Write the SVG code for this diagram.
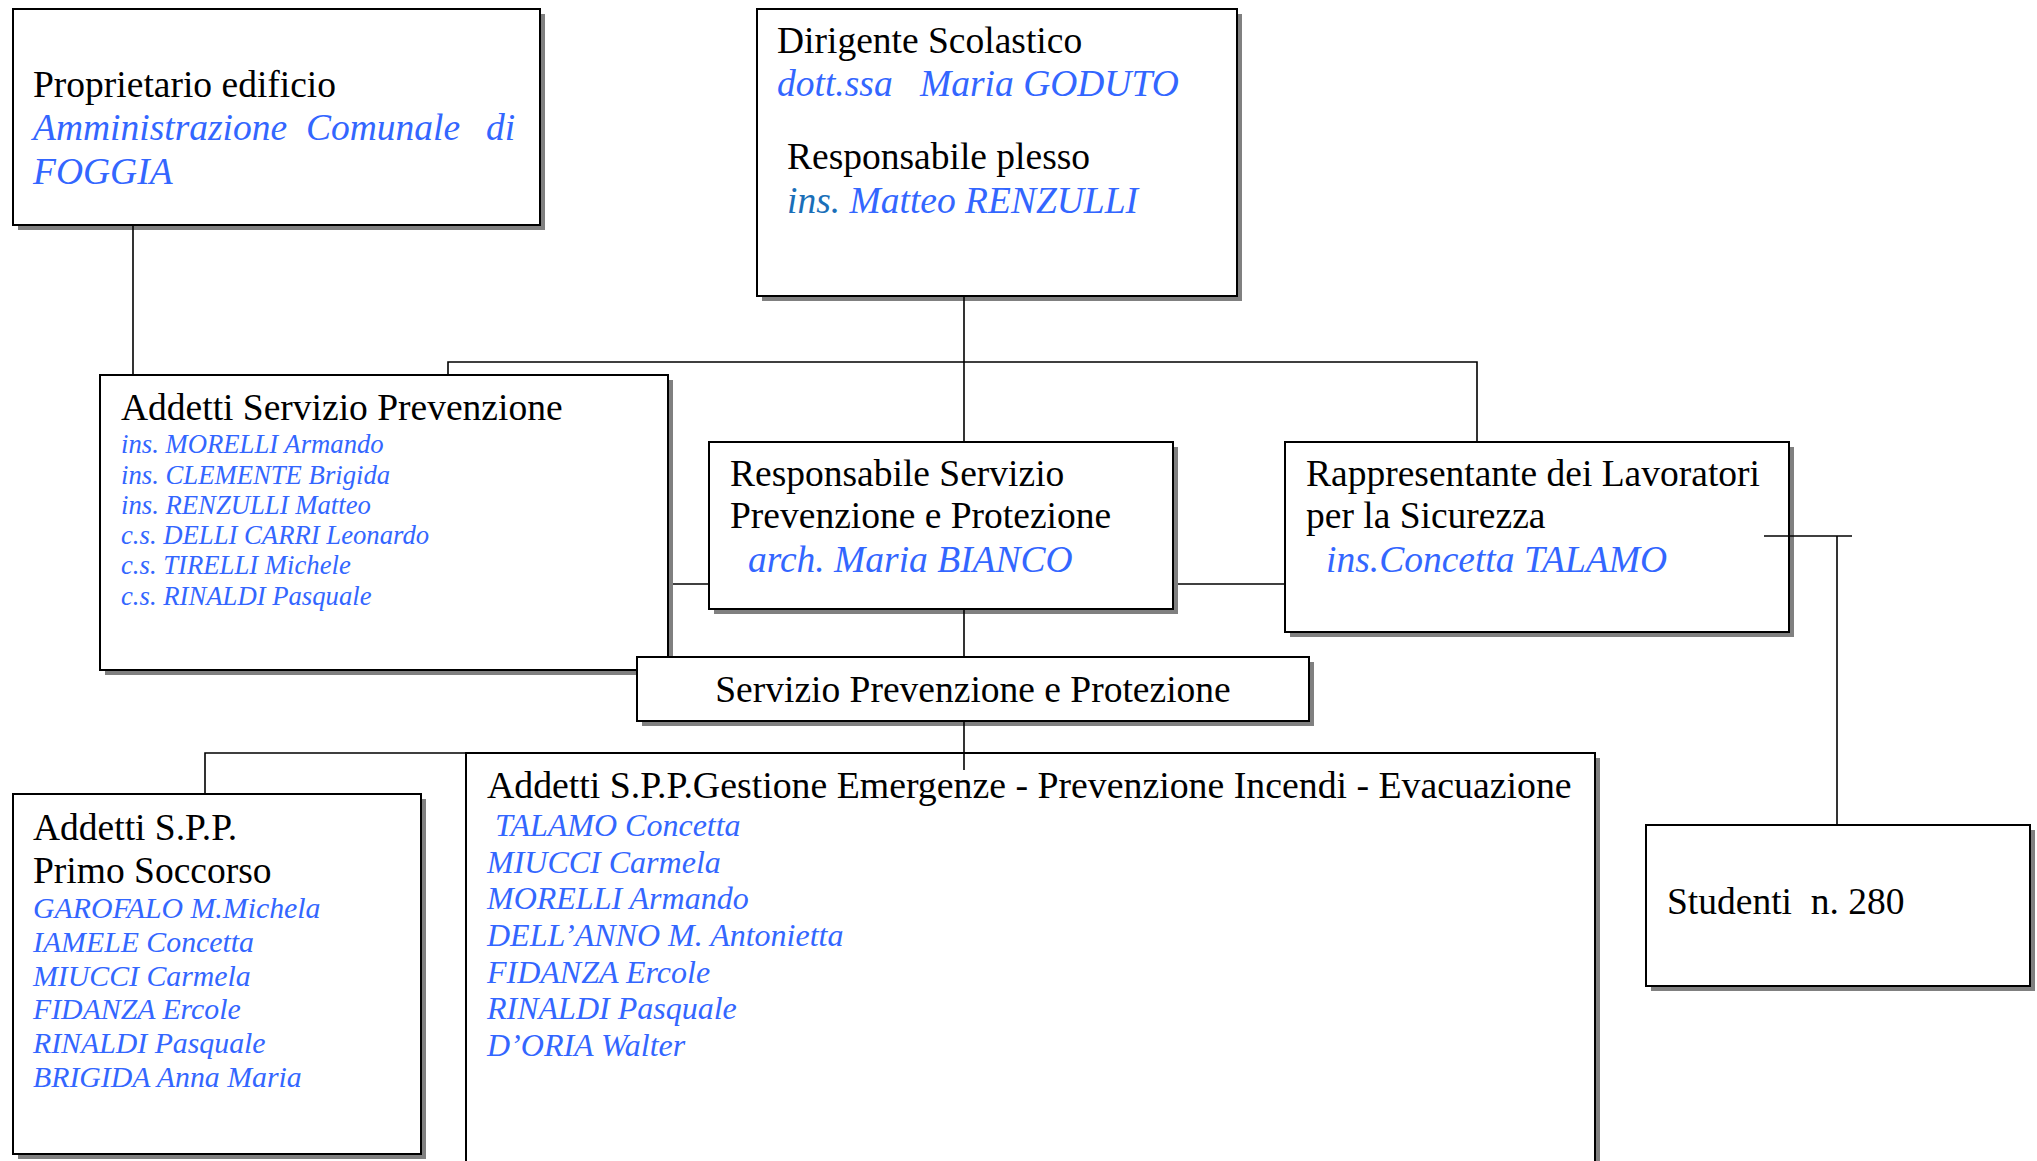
<svg xmlns="http://www.w3.org/2000/svg" width="2037" height="1161" viewBox="0 0 2037 1161">
<style>
.shadow{fill:#808080}
.box{fill:#fff;stroke:#000;stroke-width:2}
.t{font-family:"Liberation Serif","Times New Roman",serif;font-size:37.5px;fill:#000;white-space:pre}
.n{font-family:"Liberation Serif","Times New Roman",serif;font-style:italic;fill:#3366FF;white-space:pre}
.big{font-size:37.5px}
.dk{fill:#1A6FB8}
.conn{fill:none;stroke:#000;stroke-width:1.6}
</style>
<rect width="2037" height="1161" fill="#fff"/>

<g id="proprietario">
<rect class="shadow" x="18" y="14" width="527" height="216"/>
<rect class="box" x="13" y="9" width="527" height="216"/>
<text class="t" x="33" y="97">Proprietario edificio</text>
<text class="n big" x="33" y="140">Amministrazione</text>
<text class="n big" x="306" y="140">Comunale</text>
<text class="n big" x="486" y="140">di</text>
<text class="n big" x="33" y="184">FOGGIA</text>
</g>

<g id="dirigente">
<rect class="shadow" x="762" y="14" width="480" height="287"/>
<rect class="box" x="757" y="9" width="480" height="287"/>
<text class="t" x="777" y="53">Dirigente Scolastico</text>
<text class="n big" x="777" y="96">dott.ssa</text>
<text class="n big" x="920" y="96">Maria GODUTO</text>
<text class="t" x="787" y="169">Responsabile plesso</text>
<text class="n big" x="787" y="213"><tspan class="dk">ins.</tspan> Matteo RENZULLI</text>
</g>

<g id="addetti-servizio-prevenzione">
<rect class="shadow" x="105" y="380" width="568" height="295"/>
<rect class="box" x="100" y="375" width="568" height="295"/>
<text class="t" x="121" y="420">Addetti Servizio Prevenzione</text>
<g class="n" style="font-size:26.7px">
<text x="121" y="453">ins. MORELLI Armando</text>
<text x="121" y="484">ins. CLEMENTE Brigida</text>
<text x="121" y="514">ins. RENZULLI Matteo</text>
<text x="121" y="544">c.s. DELLI CARRI Leonardo</text>
<text x="121" y="574">c.s. TIRELLI Michele</text>
<text x="121" y="605">c.s. RINALDI Pasquale</text>
</g>
</g>

<g id="rspp">
<rect class="shadow" x="714" y="447" width="464" height="167"/>
<rect class="box" x="709" y="442" width="464" height="167"/>
<text class="t" x="730" y="486">Responsabile Servizio</text>
<text class="t" x="730" y="528">Prevenzione e Protezione</text>
<text class="n big" x="748" y="572">arch. Maria BIANCO</text>
</g>

<g id="spp">
<rect class="shadow" x="642" y="662" width="672" height="64"/>
<rect class="box" x="637" y="657" width="672" height="64"/>
<text class="t" x="973" y="702" text-anchor="middle">Servizio Prevenzione e Protezione</text>
</g>

<g id="rls">
<rect class="shadow" x="1290" y="447" width="504" height="190"/>
<rect class="box" x="1285" y="442" width="504" height="190"/>
<text class="t" x="1306" y="486">Rappresentante dei Lavoratori</text>
<text class="t" x="1306" y="528">per la Sicurezza</text>
<text class="n big" x="1326" y="572">ins.Concetta TALAMO</text>
</g>

<g id="studenti">
<rect class="shadow" x="1651" y="830" width="384" height="161"/>
<rect class="box" x="1646" y="825" width="384" height="161"/>
<text class="t" x="1667" y="914">Studenti  n. 280</text>
</g>

<g id="primo-soccorso">
<rect class="shadow" x="18" y="799" width="408" height="360"/>
<rect class="box" x="13" y="794" width="408" height="360"/>
<text class="t" x="33" y="840">Addetti S.P.P.</text>
<text class="t" x="33" y="883">Primo Soccorso</text>
<g class="n" style="font-size:29.8px">
<text x="33" y="918">GAROFALO M.Michela</text>
<text x="33" y="952">IAMELE Concetta</text>
<text x="33" y="986">MIUCCI Carmela</text>
<text x="33" y="1019">FIDANZA Ercole</text>
<text x="33" y="1053">RINALDI Pasquale</text>
<text x="33" y="1087">BRIGIDA Anna Maria</text>
</g>
</g>

<g id="gestione-emergenze">
<rect class="shadow" x="471" y="758" width="1129" height="440"/>
<rect class="box" x="466" y="753" width="1129" height="440"/>
<text class="t" x="487" y="798" style="font-size:37.8px">Addetti S.P.P.Gestione Emergenze - Prevenzione Incendi - Evacuazione</text>
<g class="n" style="font-size:32px">
<text x="495" y="836">TALAMO Concetta</text>
<text x="487" y="873">MIUCCI Carmela</text>
<text x="487" y="909">MORELLI Armando</text>
<text x="487" y="946">DELL’ANNO M. Antonietta</text>
<text x="487" y="983">FIDANZA Ercole</text>
<text x="487" y="1019">RINALDI Pasquale</text>
<text x="487" y="1056">D’ORIA Walter</text>
</g>
</g>

<g id="connectors">
<path class="conn" d="M133 226 V375"/>
<path class="conn" d="M964 297 V442"/>
<path class="conn" d="M448 375 V362 H1477 V442"/>
<path class="conn" d="M673 584 H709"/>
<path class="conn" d="M1178 584 H1285"/>
<path class="conn" d="M964 609 V657"/>
<path class="conn" d="M964 722 V770"/>
<path class="conn" d="M205 794 V753 H466"/>
<path class="conn" d="M1764 536 H1852"/>
<path class="conn" d="M1837 536 V825"/>
</g>
</svg>
